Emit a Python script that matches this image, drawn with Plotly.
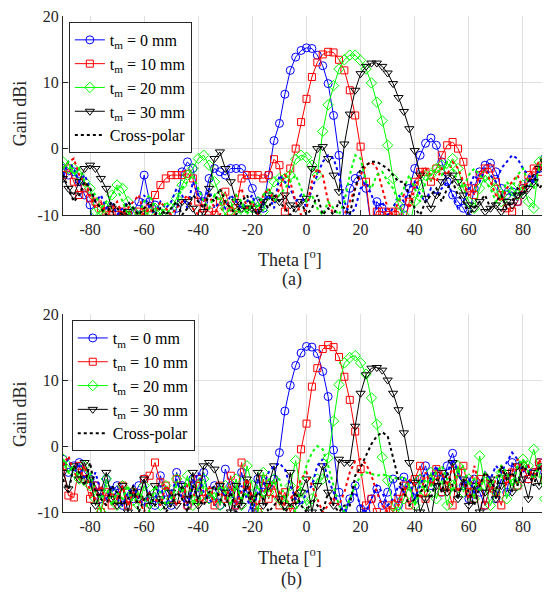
import plotly.graph_objects as go

# ---------------- data (Theta in degrees, gain in dBi) ----------------
theta = list(range(-90, 91, 2))

# (a) co-polar
a_co_0 = [-3, -4, -3.5, -5, -7, -8.5, -14, -12, -15, -13,
          -12, -11, -11, -9.5, -8, -4, -8, -8.5, -14, -13,
          -12, -9, -3.5, -2, -3, -7, -8, -4.5, -3, -3.5,
          -4, -3, -3, -3, -4, -6, -8, -9, -4, 1.2,
          3.8, 8.2, 11.8, 13.8, 14.8, 15.2, 15.1, 14.1, 12.5, 9.8,
          5, -1, -12, -6, -4.5, -4, -6, -12, -8, -9,
          -14, -13, -11, -9, -6, -3, -1, 0.8, 1.6, 0.5,
          -2, -5, -7, -8, -9, -10.5, -6, -3.5, -2.5, -2.2,
          -3.5, -6, -7, -6.5, -8, -6, -5, -4.5, -3, -1.5,
          -2]
a_co_10 = [-4, -3, -5, -7, -6, -7.5, -8, -9, -9.5, -9.5,
           -9.5, -9.5, -10, -12, -9.5, -9.5, -9, -7, -5.5, -4.5,
           -4, -4, -4, -3.8, -4.5, -8, -9, -9.5, -10, -8,
           -6.5, -9.5, -9, -4.5, -4, -4, -4, -4.5, -4, -1.6,
           -2.5, -9.5, -3, 0, 4, 7.5, 10.8, 13, 14.2, 14.6,
           14.5, 13.4, 11.8, 8.8, 5, 0.3, -5, -12, -9.5, -9.5,
           -10, -9.5, -9.5, -12, -8, -5, -3.5, -3.5, -5, -3,
           -1, 0.5, 1, 0, -2, -6, -7, -4, -3, -3,
           -5, -7, -9, -9.5, -8, -6, -4, -3, -3.5, -2,
           -3]
a_co_20 = [-2, -3, -3, -4, -5, -6, -9.5, -10, -9, -7,
           -5.5, -6, -8, -9.5, -10.5, -10, -9.5, -9, -9, -10,
           -9, -7.5, -5.5, -4, -3, -1.5, -1, -2.5, -5, -7,
           -9, -8, -10, -9, -8.5, -9, -8, -9.5, -7, -5,
           -4.5, -4.5, -4, -1.6, -1, -1.3, -2.5, -4, 2.6, 6.6,
           9.5, 12, 13.4, 14.1, 14.1, 13.3, 12, 9.9, 7, 4.2,
           0.5, -4.5, -8.5, -10, -12, -8, -5.5, -4, -4, -3,
           -2.5, -3, -1.5, -3, -6, -8, -9, -6, -4, -5,
           -6, -8, -7, -6, -7, -5.5, -8, -9, -2, -1.5,
           -1.5]
a_co_30 = [-4.5, -6, -7, -5, -3, -2.5, -3, -4.5, -6, -9,
           -12, -10, -9.5, -12, -13, -12, -12, -13, -14, -10,
           -13, -12, -8, -8, -9, -11, -9.5, -6, -1.5, -0.5,
           -3, -5, -8, -9, -9, -9, -9.5, -8, -7, -7.5,
           -8, -7, -8.5, -9, -8, -7.5, -3, 0, 0.3, -1.5,
           -4, -6.5, 0.7, 5.2, 8.8, 11.3, 12.4, 12.9, 12.9, 12.4,
           11.4, 9.8, 7.7, 5.6, 3, -0.3, -4, -7.5, -9, -7,
           -5, -4, -4, -5, -7, -8.5, -9, -8, -9.5, -9,
           -8.5, -9.5, -8, -8.5, -7, -7, -6, -5, -3, -2,
           -3]
# (a) cross-polar
a_x_0 = [-4, -2, -3, -5, -4, -6, -8, -7, -9, -8,
         -10, -9, -8, -9, -10, -7, -9, -10, -8, -9,
         -8, -6, -7, -9, -5, -7, -8, -6, -9, -8,
         -9, -7, -8, -9, -8, -7, -10, -8, -7, -9,
         -4, -5, -6, -8, -7, -9, -6, -4, -2, -1,
         -1.5, -4, -8, -10, -9, -6, -5, -7, -9, -8,
         -10, -9, -7, -8, -6, -5, -7, -8, -6, -7,
         -6, -5, -7, -9, -8, -6, -4, -5, -3, -4,
         -5, -3, -2, -1, -1.5, -3, -4, -5, -3, -2,
         -3]
a_x_10 = [-3, -2, -1.5, -4, -5, -7, -9, -8, -10, -9,
          -8, -10, -9, -8, -7, -10, -9, -10, -8, -9,
          -10, -9, -8, -7, -9, -10, -8, -7, -9, -10,
          -8, -9, -7, -6, -9, -8, -10, -7, -6, -8,
          -6, -4, -5, -8, -10, -9, -5, -3, -4, -8,
          -10, -12, -10, -8, -6, -4, -2.5, -2, -3, -6,
          -9, -10, -8, -7, -9, -6, -4, -3, -4, -5,
          -3, -4, -2, -3, -5, -7, -6, -4, -3, -5,
          -7, -8, -6, -5, -4, -6, -5, -3, -2, -4,
          -5]
a_x_20 = [-3, -2, -4, -3, -5, -6, -7, -9, -8, -7,
          -6, -8, -10, -9, -10, -8, -7, -9, -10, -8,
          -9, -8, -6, -5, -4, -6, -8, -9, -7, -8,
          -10, -9, -7, -8, -10, -8, -9, -7, -6, -8,
          -7, -6, -5, -4, -6, -8, -7, -9, -10, -8,
          -9, -10, -8, -4, -1, -1.5, -5, -6, -4, -3.5,
          -5, -6, -8, -6, -4, -6, -8, -5, -4, -3,
          -4, -2, -3, -5, -6, -4, -3, -4, -5, -6,
          -8, -7, -5, -6, -4, -3, -5, -6, -3, -2,
          -1]
a_x_30 = [-4, -6, -8, -7, -5, -6, -8, -9, -10, -8,
          -9, -10, -8, -9, -10, -9, -8, -10, -9, -10,
          -9, -8, -10, -9, -7, -8, -9, -7, -8, -6,
          -8, -9, -10, -8, -7, -9, -10, -8, -9, -7,
          -8, -9, -10, -9, -8, -10, -9, -7, -10, -9,
          -10, -8, -9, -10, -6, -3, -2.5, -2, -2, -2.5,
          -3, -4, -5, -5, -7, -9, -10, -8, -7, -6,
          -8, -6, -5, -7, -8, -10, -9, -8, -7, -9,
          -8, -7, -9, -8, -6, -7, -5, -4, -6, -5,
          -4]

# (b) co-polar
b_co_0 = [-2, -4, -3, -2.5, -4, -5, -6, -8, -5, -7,
          -6, -9, -7, -8, -6, -5, -8, -9, -4.5, -7,
          -9, -4, -6, -9, -5, -7, -4, -8, -6, -9,
          -3.5, -6, -9, -4, -7, -10, -5, -7, -6, -5,
          -1, 5.3, 9.2, 12.2, 14.1, 15.1, 15, 14, 11.3, 7.5,
          -0.6, -7, -11, -8, -6, -9.5, -10, -8, -6.5, -9,
          -7, -5, -9, -4.7, -6, -8, -5, -3, -6, -4,
          -7, -3, -1.1, -4, -6, -8, -5, -7, -9, -6,
          -8, -5, -7, -2.5, -6, -3, -5, -4, -2.5, -4,
          -5]
b_co_10 = [-3, -7.5, -7.8, -3, -5, -8, -6, -10, -7, -9,
           -8, -6, -9, -7, -8, -5, -4.5, -2.5, -5.5, -6,
           -8, -5, -7, -9, -6, -5, -8, -7, -9, -6,
           -8, -4.5, -9, -2.5, -6, -8, -10, -5, -8, -6,
           -9, -7, -10, -8, -0.5, 3.4, 9, 11.8, 14.7, 15.3,
           15, 13.5, 10.5, 7, 2.2, -3.5, -9, -8, -10, -11,
           -9, -10, -8, -6, -9, -5, -3, -8, -5, -3.5,
           -7, -6, -9, -4, -3, -7, -8, -5, -9, -6,
           -7, -9, -5, -4, -6, -3, -5, -4, -2.5, -5,
           -4]
b_co_20 = [-2, -3, -4, -5, -3, -6, -8, -10, -5, -7,
           -9, -6, -8, -7, -9, -6, -8, -7, -9, -6,
           -8, -5, -7, -4.5, -9, -6, -5, -8, -7, -9,
           -6, -8, -5, -9, -3, -6, -10, -4, -7, -5,
           -8, -9, -6, -2.2, -7, -9, -8, -5, -5, -1.8,
           3.8, 9.3, 12.6, 13.4, 13.7, 12.6, 10.9, 7.3, 3.3, -1.7,
           -5.2, -9, -10, -8, -6, -9, -5, -7, -4, -8,
           -5, -9, -6, -3, -7, -5, -8, -1.5, -6, -9,
           -7, -4, -8, -5, -6, -2, -3, -0.5, -4, -8,
           -9]
b_co_30 = [-4, -6.5, -3, -5, -2.5, -5, -9, -7, -4, -8,
           -9, -6, -10, -7, -8, -5, -9, -6, -8, -9,
           -7, -9, -6, -8, -4, -9, -3, -2.5, -3.5, -6,
           -7, -10, -6, -9, -5, -8, -4, -9, -6, -3,
           -8, -9, -4, -9, -7, -5, -10, -6, -3, -7,
           -9, -2, -2.5, -2.5, 3, 8, 10.8, 11.8, 11.9, 11.5,
           10, 8, 5.5, 2, -2.5, -5.5, -10, -8, -11, -6,
           -4, -7, -2.5, -8, -5, -9, -6, -10, -7, -5,
           -8, -6, -4, -7, -3, -5, -8, -4, -6, -3,
           -5]
# (b) cross-polar
b_x_0 = [-3, -2, -4, -3, -5, -6, -4, -7, -8, -6,
         -8, -9, -7, -6, -8, -9, -7, -8, -6, -9,
         -7, -5, -8, -9, -6, -4, -7, -8, -9, -6,
         -8, -7, -9, -6, -8, -10, -7, -6, -4, -3,
         -2.6, -3.5, -6, -8, -9, -7, -6, -3, -2, -5,
         -7, -9, -10, -8, -7, -9, -10, -8, -6, -7,
         -9, -8, -6, -7, -5, -8, -6, -4, -5, -3,
         -5, -4, -2, -4, -6, -5, -7, -6, -4, -5,
         -3, -4, -2.5, -1, -2, -4, -3, -5, -3, -2,
         -4]
b_x_10 = [-3, -1.5, -4, -5, -3, -7, -8, -6, -9, -7,
          -8, -6, -9, -7, -8, -10, -7, -8, -9, -6,
          -7, -9, -8, -6, -7, -9, -8, -6, -9, -7,
          -8, -6, -9, -7, -5, -8, -9, -7, -6, -8,
          -7, -9, -8, -7, -5, -4, -6, -8, -10, -9,
          -8, -9, -7, -4, -2.3, -2, -2.7, -4.5, -7, -9,
          -10, -8, -9, -7, -5, -6, -8, -4, -6, -5,
          -4, -6, -3, -7, -5, -8, -3, -6, -4, -7,
          -5, -3, -6, -4, -2, -4, -3, -5, -2, -4,
          -6]
b_x_20 = [-2, -4, -3, -5, -6, -4, -7, -8, -6, -9,
          -7, -8, -6, -9, -7, -8, -10, -6, -7, -9,
          -8, -6, -7, -5, -8, -9, -6, -7, -8, -6,
          -7, -9, -6, -8, -7, -9, -6, -8, -5, -6,
          -5, -8, -9, -10, -6, -3, -1, 0, -0.5, -3,
          -6, -9, -10, -8, -6, -4.5, -4, -4.2, -4.5, -4.3,
          -4.5, -4.7, -5, -4.6, -6, -9, -7, -5, -6, -4,
          -3, -5, -7, -4, -3, -6, -5, -7, -4, -6,
          -5, -3, -4, -6, -3, -2, -4, -5, -3, -2,
          -6]
b_x_30 = [-5, -7, -3, -4, -6, -2.5, -7, -8, -9, -6,
          -7, -9, -8, -6, -10, -8, -7, -9, -8, -10,
          -9, -7, -8, -10, -6, -8, -9, -7, -6, -8,
          -9, -7, -10, -8, -6, -9, -7, -8, -10, -9,
          -8, -10, -9, -7, -9, -10, -8, -9, -10, -7,
          -9, -10, -9, -9, -4.5, -3.2, -1.5, 0.3, 1.5, 2.1,
          1.5, -1.6, -5, -7, -9, -8, -7, -6, -8, -5,
          -7, -4, -6, -8, -5, -7, -9, -6, -4, -5,
          -7, -3, -5, -4, -6, -3, -4, -6, -3, -5,
          -4]

names = ["t<sub>m</sub> = 0 mm", "t<sub>m</sub> = 10 mm",
         "t<sub>m</sub> = 20 mm", "t<sub>m</sub> = 30 mm"]
xpol_name = "Cross-polar"
x_tick_vals = [-80, -60, -40, -20, 0, 20, 40, 60, 80]
x_tick_text = ["-80", "-60", "-40", "-20", "0", "20", "40", "60", "80"]
y_tick_vals = [-10, 0, 10, 20]
y_tick_text = ["-10", "0", "10", "20"]

# ---------------- styling ----------------
FONT = "Liberation Serif, Times New Roman, DejaVu Serif, serif"
colors = ["#0000FF", "#FF0000", "#00FF00", "#000000"]
symbols = ["circle-open", "square-open", "diamond-open", "triangle-down-open"]
msizes = [8, 7, 8, 8]

panels = [
    ("x", "y", "legend", [a_co_0, a_co_10, a_co_20, a_co_30], [a_x_0, a_x_10, a_x_20, a_x_30]),
    ("x2", "y2", "legend2", [b_co_0, b_co_10, b_co_20, b_co_30], [b_x_0, b_x_10, b_x_20, b_x_30]),
]

fig = go.Figure()
for xa, ya, lg, cos, xs in panels:
    for i, vals in enumerate(cos):
        fig.add_trace(go.Scatter(
            x=theta, y=vals, xaxis=xa, yaxis=ya, legend=lg, name=names[i],
            mode="lines+markers",
            line=dict(color=colors[i], width=1),
            marker=dict(symbol=symbols[i], size=msizes[i], color=colors[i],
                        line=dict(width=1, color=colors[i])),
        ))
    for i, vals in enumerate(xs):
        fig.add_trace(go.Scatter(
            x=theta, y=vals, xaxis=xa, yaxis=ya, legend=lg, name=xpol_name,
            mode="lines", showlegend=(i == 3),
            line=dict(color=colors[i], width=2, dash="dot"),
        ))

axis_common = dict(
    showgrid=True, gridcolor="#dfdfdf", gridwidth=1, zeroline=False,
    showline=True, linecolor="#262626", linewidth=1, mirror=False,
    ticks="inside", ticklen=5, tickcolor="#262626",
    ticklabeloverflow="allow",
    tickfont=dict(family=FONT, size=16, color="#262626"),
)
# the page is drawn 8 px in from the window's top-left corner
top_dom = [0.599, 1.0]
bot_dom = [0.0, 0.399]
fig.update_layout(
    width=542, height=585,
    margin=dict(l=55, r=0, t=5, b=81),
    paper_bgcolor="white", plot_bgcolor="white",
    font=dict(family=FONT, size=15, color="black"),
    xaxis=dict(range=[-90, 90], tickvals=x_tick_vals, ticktext=x_tick_text,
               anchor="y", domain=[0, 1], **axis_common),
    yaxis=dict(range=[-10, 20], tickvals=y_tick_vals, ticktext=y_tick_text,
               anchor="x", domain=top_dom, **axis_common),
    xaxis2=dict(range=[-90, 90], tickvals=x_tick_vals, ticktext=x_tick_text,
                anchor="y2", domain=[0, 1], **axis_common),
    yaxis2=dict(range=[-10, 20], tickvals=y_tick_vals, ticktext=y_tick_text,
                anchor="x2", domain=bot_dom, **axis_common),
    legend=dict(x=0.012, y=0.988, xanchor="left", yanchor="top",
                bgcolor="white", bordercolor="#262626", borderwidth=1,
                font=dict(family=FONT, size=16, color="black"),
                itemwidth=30, tracegroupgap=0),
    legend2=dict(x=0.018, y=0.387, xanchor="left", yanchor="top",
                 bgcolor="white", bordercolor="#262626", borderwidth=1,
                 font=dict(family=FONT, size=16, color="black"),
                 itemwidth=30, tracegroupgap=0),
    showlegend=True,
)

ann_font = dict(family=FONT, size=18, color="#262626")
fig.add_annotation(text="Theta [<sup>o</sup>]", xref="paper", yref="paper",
                   x=0.466, y=0.512, xanchor="center", yanchor="middle",
                   showarrow=False, font=ann_font)
fig.add_annotation(text="(a)", xref="paper", yref="paper",
                   x=0.47, y=0.468, xanchor="center", yanchor="middle",
                   showarrow=False, font=ann_font)
fig.add_annotation(text="Theta [<sup>o</sup>]", xref="paper", yref="paper",
                   x=0.466, y=-0.090, xanchor="center", yanchor="middle",
                   showarrow=False, font=ann_font)
fig.add_annotation(text="(b)", xref="paper", yref="paper",
                   x=0.47, y=-0.136, xanchor="center", yanchor="middle",
                   showarrow=False, font=ann_font)
fig.add_annotation(text="Gain dBi", xref="paper", yref="paper",
                   x=-0.088, y=0.804, xanchor="center", yanchor="middle",
                   textangle=-90, showarrow=False, font=ann_font)
fig.add_annotation(text="Gain dBi", xref="paper", yref="paper",
                   x=-0.088, y=0.198, xanchor="center", yanchor="middle",
                   textangle=-90, showarrow=False, font=ann_font)

fig.write_html("out.html")
